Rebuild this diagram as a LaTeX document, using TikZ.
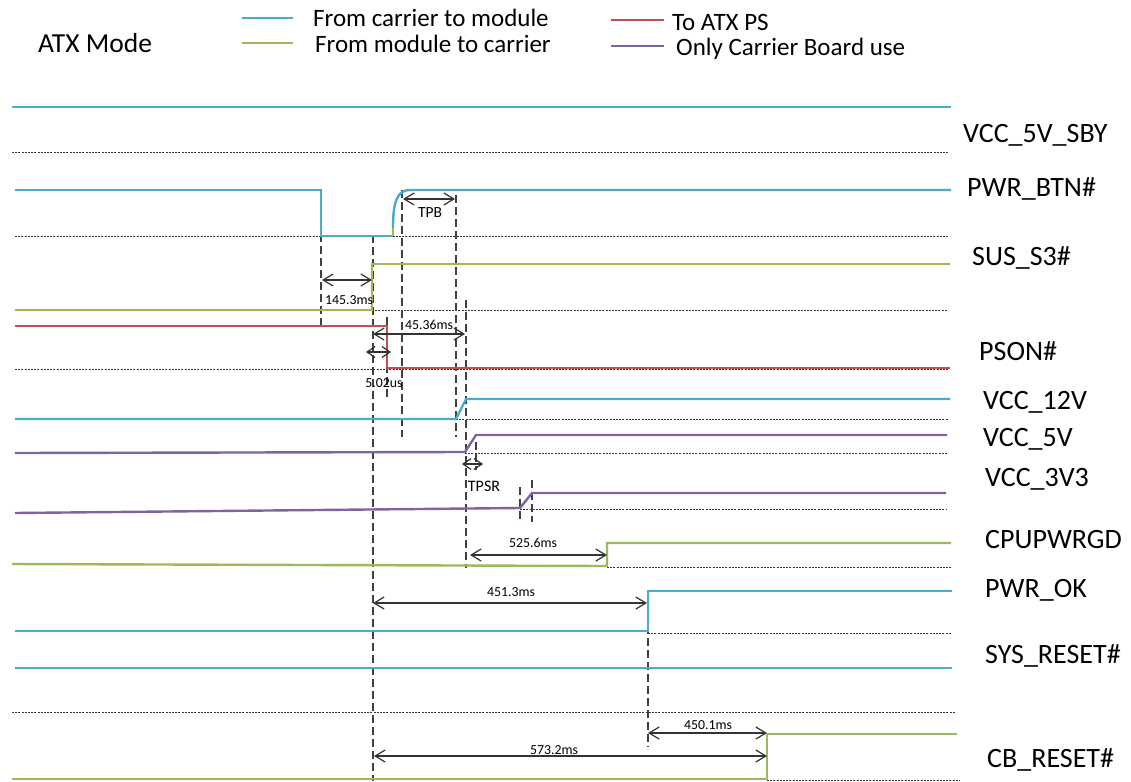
\documentclass[tikz,border=0pt]{standalone}
\usepackage{fontspec}
\setmainfont{Carlito}
\usetikzlibrary{arrows.meta}
\definecolor{cyn}{HTML}{4BACC6}
\definecolor{grn}{HTML}{9BBB59}
\definecolor{rd}{HTML}{C0504D}
\definecolor{prp}{HTML}{8064A2}
\begin{document}
\begin{tikzpicture}[x=1pt,y=-1pt,
 sig/.style={line width=2.4pt},
 base/.style={line width=0.9pt, dash pattern=on 2pt off 1.2pt, black!80},
 guide/.style={line width=1.2pt, dash pattern=on 8pt off 4pt, black!75},
 dim/.style={line width=1.2pt, black!80, {Straight Barb[length=10pt,width=12pt]}-{Straight Barb[length=10pt,width=12pt]}},
 lbl/.style={anchor=base west, font=\fontsize{28}{30}\selectfont, inner sep=0pt},
 leg/.style={anchor=base west, font=\fontsize{25}{27}\selectfont, inner sep=0pt},
 val/.style={font=\fontsize{13.8}{15}\selectfont, inner sep=0pt},
]
\useasboundingbox (0,0) rectangle (1131,781);

% ---------- legend ----------
\node[leg, font=\fontsize{27.5}{29}\selectfont] (title) at (38,53) {ATX Mode};
\draw[sig, cyn] (242,18) -- (293,18);
\draw[sig, grn] (242,43) -- (293,43);
\draw[sig, rd] (611,20) -- (664,20);
\draw[sig, prp] (611,46) -- (664,46);
\node[leg] (l1) at (313,27) {From carrier to module};
\node[leg] (l2) at (315,53) {From module to carrier};
\node[leg] (l3) at (672,31) {To ATX PS};
\node[leg] (l4) at (676,56) {Only Carrier Board use};

% ---------- baselines (fine dotted) ----------
\draw[base] (12,152) -- (948,152);
\draw[base] (15,236) -- (948,236);
\draw[base] (372,310) -- (948,310);
\draw[base] (15,369) -- (948,369);
\draw[base] (456,419) -- (948,419);
\draw[base] (465,453) -- (947,453);
\draw[base] (520,509) -- (947,509);
\draw[base] (607,567) -- (951,567);
\draw[base] (648,633) -- (952,633);
\draw[base] (12,712) -- (956,712);
\draw[base] (767,780) -- (960,780);

% ---------- vertical guides ----------
\draw[guide] (321,210) -- (321,326);
\draw[guide] (373,235) -- (373,781);
\draw[guide] (387,317) -- (387,400);
\draw[guide] (402,190) -- (402,437);
\draw[guide] (456,195) -- (456,437);
\draw[guide] (466,300) -- (466,568);
\draw[guide] (476,442) -- (476,470);
\draw[guide] (520,487) -- (520,523);
\draw[guide] (532,480) -- (532,522);
\draw[guide] (648,590) -- (648,747);

% ---------- signals ----------
% VCC_5V_SBY
\draw[sig, cyn] (12,107) -- (951,107);
% PWR_BTN#
\draw[sig, cyn] (15,190) -- (321,190) -- (321,236) -- (393,236);
\draw[sig, grn] (393,236) -- (393,228);
\draw[sig, cyn] (393,228) .. controls (393,202) and (397,190) .. (410,190) -- (951,190);
% SUS_S3#
\draw[sig, grn] (15,310) -- (372,310) -- (372,264) -- (950,264);
% PSON#
\draw[sig, rd] (15,326) -- (387,326) -- (387,368) -- (950,368);
% VCC_12V
\draw[sig, cyn] (15,419) -- (456,419) -- (466,399) -- (950,399);
% VCC_5V
\draw[sig, prp] (15,453) -- (465,452) -- (476,435) -- (947,435);
% VCC_3V3
\draw[sig, prp] (15,513) -- (520,508) -- (532,493) -- (946,493);
% CPUPWRGD
\draw[sig, grn] (12,564) -- (607,566) -- (607,543) -- (951,543);
% PWR_OK
\draw[sig, cyn] (15,631) -- (648,631) -- (648,591) -- (952,591);
% SYS_RESET#
\draw[sig, cyn] (15,668) -- (952,668);
% CB_RESET#
\draw[sig, grn] (12,779) -- (767,779) -- (767,734) -- (957,734);

% ---------- signal labels ----------
\node[lbl] (n1) at (963,142) {VCC\_5V\_SBY};
\node[lbl] (n2) at (967,196) {PWR\_BTN\#};
\node[lbl] (n3) at (972,265) {SUS\_S3\#};
\node[lbl] (n4) at (979,360) {PSON\#};
\node[lbl] (n5) at (983,409) {VCC\_12V};
\node[lbl] (n6) at (983,446) {VCC\_5V};
\node[lbl] (n7) at (985,486) {VCC\_3V3};
\node[lbl] (n8) at (985,548) {CPUPWRGD};
\node[lbl] (n9) at (985,597) {PWR\_OK};
\node[lbl] (n10) at (985,663) {SYS\_RESET\#};
\node[lbl] (n11) at (987,767) {CB\_RESET\#};

% ---------- dimension arrows ----------
\coordinate (tpbL) at (403,199);   \coordinate (tpbR) at (455,199);
\coordinate (d1L) at (322,280);    \coordinate (d1R) at (372,280);
\coordinate (d2L) at (373,334);    \coordinate (d2R) at (465,334);
\coordinate (d3L) at (366,352);    \coordinate (d3R) at (391,352);
\coordinate (tpsrL) at (462,464);  \coordinate (tpsrR) at (483,464);
\coordinate (d4L) at (470,555);    \coordinate (d4R) at (607,555);
\coordinate (d5L) at (373,603);    \coordinate (d5R) at (647,603);
\coordinate (d6L) at (648,733);    \coordinate (d6R) at (767,733);
\coordinate (d7L) at (374,756);    \coordinate (d7R) at (767,756);
\draw[dim] (tpbL) -- (tpbR);
\draw[dim] (d1L) -- (d1R);
\draw[dim] (d2L) -- (d2R);
\draw[dim, {Straight Barb[length=8pt,width=11pt]}-{Straight Barb[length=8pt,width=11pt]}] (d3L) -- (d3R);
\draw[dim, {Straight Barb[length=8pt,width=11pt]}-{Straight Barb[length=8pt,width=11pt]}] (tpsrL) -- (tpsrR);
\draw[dim] (d4L) -- (d4R);
\draw[dim] (d5L) -- (d5R);
\draw[dim] (d6L) -- (d6R);
\draw[dim] (d7L) -- (d7R);

\node[val, font=\fontsize{15.5}{17}\selectfont] (tpb) at (430,213) {TPB};
\node[val] (v1) at (349,300) {145.3ms};
\node[val] (v2) at (429,325) {45.36ms};
\node[val] (v3) at (384,383) {5.02us};
\node[val, font=\fontsize{16}{18}\selectfont] (tpsr) at (484,486) {TPSR};
\node[val] (v4) at (533,543) {525.6ms};
\node[val] (v5) at (511,592) {451.3ms};
\node[val] (v6) at (708,725) {450.1ms};
\node[val] (v7) at (554,750) {573.2ms};
\end{tikzpicture}
\end{document}
